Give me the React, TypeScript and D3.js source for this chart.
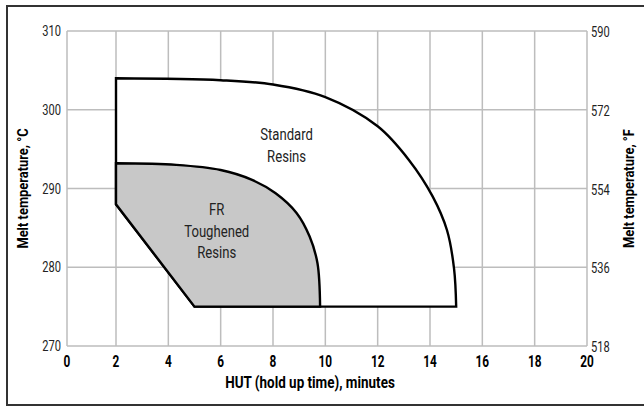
import React from "react";
import * as d3 from "d3";

// tick values
const xTicks = [0, 2, 4, 6, 8, 10, 12, 14, 16, 18, 20];
const yTicksC = [270, 280, 290, 300, 310];
const yTicksF = [518, 536, 554, 572, 590];

// outline of the standard resins window (curved top/right edge)
const standardCurve: [number, number][] = [
  [2, 304],
  [6, 303.75],
  [8, 303.2],
  [10, 301.6],
  [12, 297.9],
  [13.2, 293.6],
  [14.1, 289],
  [14.65, 284.7],
  [14.92, 279.8],
  [15, 275],
];

// outline of the FR / toughened resins window
const frCurve: [number, number][] = [
  [2, 293.2],
  [4.3, 293],
  [6, 292.35],
  [7.2, 291.1],
  [8.1, 289.4],
  [8.9, 286.9],
  [9.4, 283.9],
  [9.7, 280.5],
  [9.8, 275],
];

// shared lower-left boundary (min HUT line)
const lowerEdge: [number, number][] = [
  [5, 275],
  [2, 288],
];

const W = 644;
const H = 407;
const FONT = "Roboto, 'Liberation Sans', sans-serif";

// condensed-looking text: squeeze glyphs horizontally
const T = ({ x, y, sx = 0.78, rot = 0, children, ...rest }: any) => (
  <text transform={`translate(${x},${y}) rotate(${rot}) scale(${sx},1)`} {...rest}>
    {children}
  </text>
);

export default function App() {
  // first column of the original grid is a bit narrower
  const x = d3.scaleLinear().domain([0, 2, 20]).range([67, 116, 587]);
  const y = d3.scaleLinear().domain([270, 310]).range([346, 31]);

  const line = d3
    .line<[number, number]>()
    .x((d) => x(d[0]))
    .y((d) => y(d[1]))
    .curve(d3.curveCatmullRom.alpha(0.5));

  const tail = lowerEdge.map((d) => `L${x(d[0])},${y(d[1])}`).join("") + "Z";
  const standardPath = line(standardCurve) + tail;
  const frPath = line(frCurve) + tail;

  const textColor = "#222";

  return (
    <svg
      width={W}
      height={H}
      style={{ position: "absolute", left: 0, top: 0, background: "#fff" }}
      fontFamily={FONT}
    >
      {/* frame */}
      <rect x={7} y={6} width={660} height={399} fill="none" stroke="#333" strokeWidth={2} />

      {/* grid */}
      <g stroke="#bdbdbd" strokeWidth={1.5}>
        {xTicks.map((t) => (
          <line key={"gx" + t} x1={x(t)} x2={x(t)} y1={y(310)} y2={y(270)} />
        ))}
        {yTicksC.map((t) => (
          <line key={"gy" + t} x1={x(0)} x2={x(20)} y1={y(t)} y2={y(t)} />
        ))}
      </g>

      {/* regions */}
      <path d={standardPath} fill="#fff" stroke="#000" strokeWidth={2.4} />
      <path d={frPath} fill="#c8c8c8" stroke="#000" strokeWidth={2.4} />

      {/* region labels */}
      <g fill={textColor} fontSize={16} textAnchor="middle">
        <T x={x(8.52)} y={y(296.16)} sx={0.82}>Standard</T>
        <T x={x(8.52)} y={y(293.37)} sx={0.82}>Resins</T>
        <T x={x(5.85)} y={y(286.63)} sx={0.82}>FR</T>
        <T x={x(5.85)} y={y(283.84)} sx={0.82}>Toughened</T>
        <T x={x(5.85)} y={y(281.17)} sx={0.82}>Resins</T>
      </g>

      {/* left axis ticks (°C) */}
      <g fill={textColor} fontSize={15} textAnchor="end">
        {yTicksC.map((t) => (
          <T key={"lc" + t} x={61} y={y(t) + 5} sx={0.74}>
            {t}
          </T>
        ))}
      </g>

      {/* right axis ticks (°F) */}
      <g fill={textColor} fontSize={15} textAnchor="start">
        {yTicksF.map((t, i) => (
          <T key={"rf" + t} x={591} y={y(yTicksC[i]) + 6} sx={0.74}>
            {t}
          </T>
        ))}
      </g>

      {/* x axis ticks */}
      <g fill="#000" fontSize={16} fontWeight="bold" textAnchor="middle">
        {xTicks.map((t) => (
          <T key={"xt" + t} x={x(t)} y={367} sx={0.74}>
            {t}
          </T>
        ))}
      </g>

      {/* axis titles */}
      <T x={310} y={388} sx={0.84} fontSize={16} fontWeight="bold" textAnchor="middle" fill="#000">
        HUT (hold up time), minutes
      </T>
      <T x={28} y={y(290)} rot={-90} sx={0.86} fontSize={15} fontWeight="bold" textAnchor="middle" fill="#000">
        Melt temperature, °C
      </T>
      <T x={634} y={y(290)} rot={-90} sx={0.86} fontSize={15} fontWeight="bold" textAnchor="middle" fill="#000">
        Melt temperature, °F
      </T>
    </svg>
  );
}
